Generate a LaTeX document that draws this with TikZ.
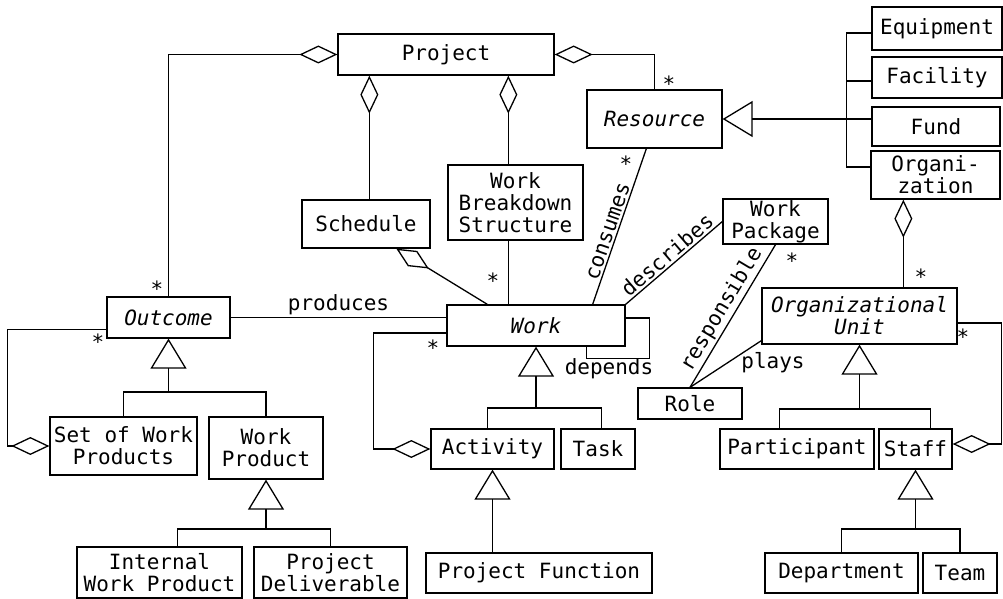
\documentclass[tikz,border=0pt]{standalone}
\usepackage{fontspec}
\setmainfont{DejaVu Sans Mono}
\usetikzlibrary{arrows.meta,positioning}

\begin{document}
\begin{tikzpicture}[
    x=1pt,y=-1pt,
    line width=1.3pt,
    font=\fontsize{21}{22}\selectfont,
    cls/.style={rectangle,draw,inner sep=0pt,align=center},
    abstr/.style={cls,font=\fontsize{21}{22}\selectfont\itshape},
    mult/.style={inner sep=0pt},
    assoc/.style={inner sep=2pt},
    aggr/.style={{Diamond[open,length=38pt,width=18pt]}-},
    gen/.style={-{Triangle[open,length=30pt,width=36pt]}}
]
\useasboundingbox (0,0) rectangle (1003,599);

\node[cls,minimum width=216pt,minimum height=41pt] (project) at (446,54.5) {Project};
\node[cls,minimum width=128pt,minimum height=48pt] (sched) at (366,224) {Schedule};
\node[cls,minimum width=135pt,minimum height=75pt] (wbs) at (515.5,202.5) {Work\\Breakdown\\Structure};
\node[abstr,minimum width=135pt,minimum height=58pt] (resource) at (654.5,119) {Resource};
\node[cls,minimum width=130pt,minimum height=43pt] (equip) at (937,28.5) {Equipment};
\node[cls,minimum width=130pt,minimum height=41pt] (facility) at (937,77.5) {Facility};
\node[cls,minimum width=128pt,minimum height=39pt] (fund) at (936,126.5) {Fund};
\node[cls,minimum width=129pt,minimum height=48pt] (org) at (935.5,175) {Organi-\\zation};
\node[cls,minimum width=105pt,minimum height=45pt] (wpkg) at (775.5,221.5) {Work\\Package};
\node[abstr,minimum width=178pt,minimum height=41pt] (work) at (536,325.5) {Work};
\node[abstr,minimum width=123pt,minimum height=41pt] (outcome) at (168.5,317.5) {Outcome};
\node[abstr,minimum width=195pt,minimum height=56pt] (orgunit) at (859.5,316) {Organizational\\Unit};
\node[cls,minimum width=104pt,minimum height=31pt] (role) at (690,403.5) {Role};
\node[cls,minimum width=147pt,minimum height=58pt] (setwp) at (123.5,446) {Set of Work\\Products};
\node[cls,minimum width=114pt,minimum height=62pt] (wprod) at (266,448) {Work\\Product};
\node[cls,minimum width=165pt,minimum height=51pt] (iwp) at (159.5,572.5) {Internal\\Work Product};
\node[cls,minimum width=153pt,minimum height=51pt] (pdel) at (330.5,572.5) {Project\\Deliverable};
\node[cls,minimum width=123pt,minimum height=40pt] (activity) at (492.5,449) {Activity};
\node[cls,minimum width=74pt,minimum height=40pt] (task) at (598,449) {Task};
\node[cls,minimum width=226pt,minimum height=40pt] (pfunc) at (539,573) {Project Function};
\node[cls,minimum width=154pt,minimum height=40pt] (part) at (797,449) {Participant};
\node[cls,minimum width=73pt,minimum height=40pt] (staff) at (915.5,449) {Staff};
\node[cls,minimum width=153pt,minimum height=40pt] (dept) at (841.5,573) {Department};
\node[cls,minimum width=74pt,minimum height=40pt] (team) at (960,573) {Team};

\draw[aggr] (project.west) -| (outcome.north);
\draw[aggr] ([xshift=32pt]project.south west) -- ([xshift=32pt]project.south west |- sched.north);
\draw[aggr] ([xshift=171pt]project.south west) -- ([xshift=171pt]project.south west |- wbs.north);
\draw[aggr] (project.east) -| (resource.north);
\draw ([xshift=61pt]wbs.south west) -- ([xshift=61pt]wbs.south west |- work.north);
\draw[aggr] ([xshift=95pt]sched.south west) -- ([xshift=41pt]work.north west);

\draw[gen] (fund.west |- resource.east) -- (resource.east);
\draw ([yshift=-4.5pt]equip.west) -- ++(-25,0) |- ([yshift=8pt]org.west);
\draw ([yshift=-3.5pt]facility.west) -- ++(-25,0);
\draw[aggr] ([xshift=33pt]org.south west) -- ([xshift=33pt]org.south west |- orgunit.north);

\draw ([xshift=-33pt]work.north east) -- ([xshift=60pt]resource.south west)
    node[assoc,pos=0.45,sloped,above] (lblcons) {consumes};
\draw (work.north east) -- (wpkg.west)
    node[assoc,midway,sloped,above] (lbldesc) {describes};
\draw (role.north) -- (wpkg.south)
    node[assoc,midway,sloped,above] (lblresp) {responsible};
\draw (role.north) -- ([yshift=4pt]orgunit.south west);
\node[assoc] (lblplays) at (773,363) {plays};

\draw (outcome.east) -- (outcome.east -| work.west)
    node[assoc,midway,above] (lblprod) {produces};
\draw[aggr] (setwp.west) -- ++(-42,0) |- ([yshift=-12pt]outcome.west);
\draw[aggr] (activity.west) -- ++(-57,0) |- ([yshift=-7.5pt]work.west);
\draw ([yshift=7.5pt]work.east) -- ++(24,0) |- ([xshift=-39pt,yshift=-12pt]work.south east)
    -- ([xshift=-39pt]work.south east);
\node[assoc] (lbldep) at (609,369) {depends};

\coordinate (outj) at (168.5,392);
\draw[gen] (outj) -- (outcome.south);
\draw (setwp.north) |- (outj) -| (wprod.north);
\coordinate (wpj) at (266,529);
\draw[gen] (wpj) -- (wprod.south);
\draw ([xshift=101pt]iwp.north west) |- (wpj) -| (pdel.north);
\coordinate (workj) at (536,408);
\draw[gen] (workj) -- (work.south);
\draw ([xshift=57pt]activity.north west) |- (workj) -| ([xshift=41pt]task.north west);
\draw[gen] (activity.south |- pfunc.north) -- (activity.south);
\coordinate (ouj) at (859.5,409);
\draw[gen] (ouj) -- (orgunit.south);
\draw ([xshift=60pt]part.north west) |- (ouj) -| ([xshift=52pt]staff.north west);
\coordinate (stj) at (915.5,529);
\draw[gen] (stj) -- (staff.south);
\draw (dept.north) |- (stj) -| (team.north);
\draw[aggr] ([yshift=5pt]staff.east) -- ++(49,0) |- ([yshift=-7pt]orgunit.east);

\node[mult] (m1) at (157,289) {*};
\node[mult] (m2) at (669,84) {*};
\node[mult] (m3) at (626,164) {*};
\node[mult] (m4) at (493,281) {*};
\node[mult] (m5) at (98,342) {*};
\node[mult] (m6) at (433,348) {*};
\node[mult] (m7) at (792,261) {*};
\node[mult] (m8) at (921,277) {*};
\node[mult] (m9) at (963,337) {*};
\end{tikzpicture}
\end{document}
